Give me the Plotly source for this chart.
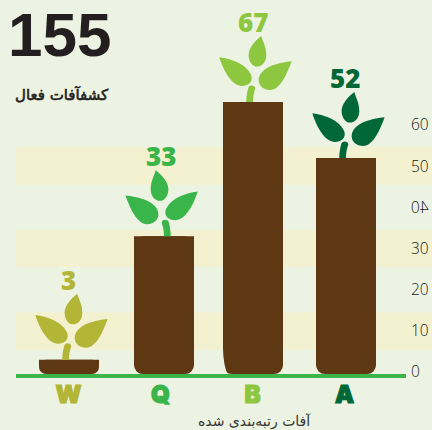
import plotly.graph_objects as go

categories = ["W", "Q", "B", "A"]
value_labels = [3, 33, 67, 52]
bar_tops = [3, 33, 65.6, 52]          # heights as drawn in the picture
bar_base = -0.5
y_ticks = [0, 10, 20, 30, 40, 50, 60]
band_centers = [10, 30, 50]
band_half = 4.5
big_number = "155"
subtitle = "کشفآفات فعال"
axis_title = "آفات رتبه‌بندی شده"

plant_colors = ["#b2b536", "#39b54a", "#8dc63f", "#006837"]
BG, BAND, BROWN = "#edf3e2", "#f4f1d0", "#5e3813"

# page geometry (pixels)
W, H = 432, 430
PW, PH = 410, 378                     # plot area: top-left of page
STEP, X0 = 92.0, 68.5                 # category spacing and position of the first one
Y_SCALE, Y_ZERO = 4.117, 372.0
BAR_W = 60
bar_shift = [0.5, 3.5, 0.5, 1.5]      # sideways offsets of bars from their tick (px)
plant_mirror = [1, -1, 1, 1]

LEAF_TOP = [(8.3, 66), (10, 60, 13.3, 55, 13.3, 47), (13.3, 40, 9, 35.3, 4, 35.3),
            (-1, 35.3, -4.4, 41, -4.4, 47), (-4.4, 54, 2, 61, 8.3, 66)]
LEAF_L = [(-33.7, 44.7), (-22, 43, -8, 39, -1.8, 27), (0.5, 20, -5, 16, -11, 16),
          (-21, 16, -29, 30, -33.7, 44.7)]
LEAF_R = [(38.6, 40.7), (27, 39.5, 9, 36, 5.8, 24), (4.5, 16, 11, 12, 17, 12),
          (27, 12, 34, 28, 38.6, 40.7)]
STEM = [(-6.8, 0), (-6.8, 6, -5.5, 11, -4.8, 14), (-3.5, 17.5, 2, 17, 2.3, 13.5),
        (0.8, 9, 0, 5, 0, 0)]


def path(segs, m):
    s = f"M {segs[0][0]*m:.2f} {segs[0][1]:.2f}"
    for c in segs[1:]:
        s += " C " + ", ".join(f"{c[i]*m:.2f} {c[i+1]:.2f}" for i in (0, 2, 4))
    return s + " Z"


fig = go.Figure()
offsets = [(-BAR_W / 2 + s) / STEP for s in bar_shift]
# full bar, rounded at both ends
fig.add_trace(go.Bar(
    x=categories, y=[-(t - bar_base) for t in bar_tops], base=bar_tops,
    width=BAR_W / STEP, offset=offsets,
    marker=dict(color=BROWN, cornerradius=9, line=dict(width=0)),
    hoverinfo="skip",
))
# square upper half, so that only the foot of each bar stays rounded
fig.add_trace(go.Bar(
    x=categories, y=[(t - bar_base) / 2 for t in bar_tops],
    base=[t - (t - bar_base) / 2 for t in bar_tops],
    width=BAR_W / STEP, offset=offsets,
    marker=dict(color=BROWN, line=dict(width=0)),
    hoverinfo="skip",
))

shapes = []
for c in band_centers:
    shapes.append(dict(type="rect", layer="below", xref="paper", yref="y",
                       x0=15 / PW, x1=W / PW, y0=c - band_half, y1=c + band_half,
                       fillcolor=BAND, line_width=0))
shapes.append(dict(type="rect", layer="above", xref="paper", yref="paper",
                   x0=16 / PW, x1=406 / PW, y0=0, y1=4 / PH,
                   fillcolor="#39b54a", line_width=0))
# longer curve on the lower left of the tall bar
shapes.append(dict(type="path", layer="above", xref="paper", yref="paper",
                   path=f"M {222/PW} {1-349/PH} L {223/PW} {1-349/PH} "
                        f"Q {223.4/PW} {1-364/PH} {227/PW} {1-373/PH} L {222/PW} {1-373/PH} Z",
                   fillcolor=BG, line_width=0))
for i, (t, col) in enumerate(zip(bar_tops, plant_colors)):
    anchor = i + bar_shift[i] / STEP
    for seg in (STEM, LEAF_TOP, LEAF_L, LEAF_R):
        shapes.append(dict(type="path", layer="above", xref="x", yref="y",
                           xsizemode="pixel", ysizemode="pixel",
                           xanchor=anchor, yanchor=t,
                           path=path(seg, plant_mirror[i]),
                           fillcolor=col, line_width=0))

annotations = []
for cat, t, v, col in zip(categories, bar_tops, value_labels, plant_colors):
    annotations.append(dict(x=cat, y=t, xref="x", yref="y", text=str(v),
                            showarrow=False, yshift=80, xanchor="center", yanchor="middle",
                            font=dict(family="Open Sans", size=26, color=col, weight=800)))
annotations += [
    dict(x=6 / PW, y=1 - 34 / PH, xref="paper", yref="paper", text=f"<b>{big_number}</b>",
         showarrow=False, xanchor="left", yanchor="middle",
         font=dict(family="Liberation Sans", size=62, color="#231f20")),
    dict(x=111 / PW, y=1 - 95 / PH, xref="paper", yref="paper", text=subtitle,
         showarrow=False, xanchor="right", yanchor="middle",
         font=dict(family="DejaVu Sans", size=15, color="#231f20")),
    dict(x=254 / PW, y=1 - 421 / PH, xref="paper", yref="paper", text=axis_title,
         showarrow=False, xanchor="center", yanchor="middle",
         font=dict(family="DejaVu Sans", size=14, color="#333333")),
]

fig.update_layout(
    width=W, height=H, autosize=False, barmode="overlay",
    margin=dict(l=0, r=W - PW, t=0, b=H - PH, pad=0),
    paper_bgcolor=BG, plot_bgcolor="rgba(0,0,0,0)", showlegend=False,
    shapes=shapes, annotations=annotations,
    xaxis=dict(type="category", categoryorder="array", categoryarray=categories,
               range=[-X0 / STEP, (PW - X0) / STEP], showgrid=False, zeroline=False,
               showline=False, ticks="", tickmode="array", tickvals=categories,
               ticktext=[f'<span style="color:{c}">{n}</span>' for n, c in zip(categories, plant_colors)],
               tickfont=dict(family="Inter", size=24, weight=900), ticklabelstandoff=0,
               fixedrange=True),
    yaxis=dict(side="right", range=[(Y_ZERO - PH) / Y_SCALE, Y_ZERO / Y_SCALE],
               tickmode="array", tickvals=y_ticks, ticktext=[str(v) for v in y_ticks],
               showgrid=False, zeroline=False, showline=False, ticks="",
               tickfont=dict(family="Open Sans", size=15.5, color="#1a1a1a", weight=300),
               fixedrange=True),
)

# page without body margin; "40" is printed mirrored in the reference;
# the category letters and the subtitle are thickened to the reference's weight
post = """
document.body.style.margin = '0';
document.body.style.background = '%s';
var gd = document.getElementsByClassName('plotly-graph-div')[0];
gd.querySelectorAll('.ytick text').forEach(function(t){
  if(t.textContent === '40'){
    var b = t.getBBox(), c = b.x + b.width/2;
    var tr = t.getAttribute('transform') || '';
    t.setAttribute('transform', tr + ' translate(' + (2*c) + ',0) scale(-1,1)');
  }
});
gd.querySelectorAll('.xtick text tspan').forEach(function(s){
  s.style.stroke = s.style.fill;
  s.style.strokeWidth = '1.2px';
});
gd.querySelectorAll('.annotation-text').forEach(function(t){
  if(t.textContent === '%s'){
    t.style.stroke = '#231f20';
    t.style.strokeWidth = '0.6px';
  }
});
""" % (BG, subtitle)
fig.write_html("out.html", post_script=post, config=dict(displayModeBar=False))
